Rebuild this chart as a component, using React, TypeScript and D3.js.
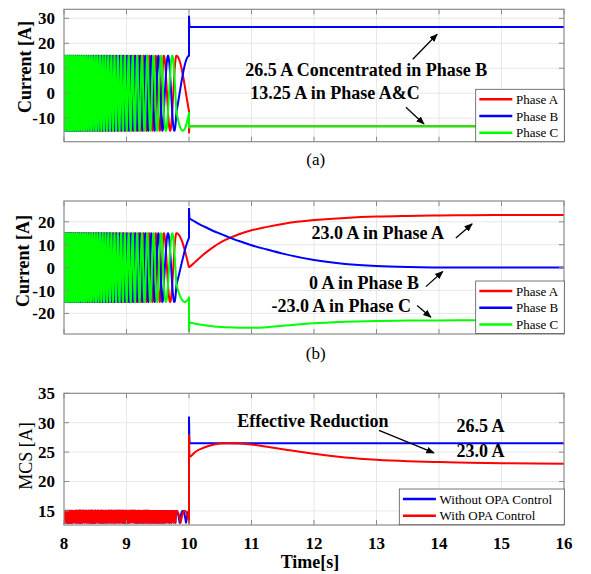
import React from 'react';
import * as d3 from 'd3';

const timeTicks = [8, 9, 10, 11, 12, 13, 14, 15, 16];
const currentTicksA = [-10, 0, 10, 20, 30];
const currentTicksB = [-20, -10, 0, 10, 20];
const mcsTicks = [15, 20, 25, 30, 35];

// crest instants of phase A before the event (stripes widen as the frequency falls)
const crestTimes = [
  8.014, 8.045, 8.077, 8.109, 8.141, 8.174, 8.208, 8.242, 8.278, 8.313, 8.35,
  8.387, 8.425, 8.465, 8.505, 8.546, 8.589, 8.633, 8.678, 8.725, 8.774, 8.825,
  8.878, 8.933, 8.992, 9.055, 9.121, 9.194, 9.273, 9.363, 9.467, 9.597, 9.799,
];
// part of a cycle run between the last crest and t = 10 s
const endCycleA = 0.33;
const endCycleB = 0.25;
const peakCurrent = 15;

// after t = 10 s
const postTimes = [10, 10.01, 10.05, 10.1, 10.2, 10.3, 10.4, 10.5, 10.6, 10.8, 11, 11.25, 11.5, 12, 12.5, 13, 13.5, 14, 14.5, 15, 16];
const aPhaseA = [-16, -13.25, -13.25, -13.25, -13.25, -13.25, -13.25, -13.25, -13.25, -13.25, -13.25, -13.25, -13.25, -13.25, -13.25, -13.25, -13.25, -13.25, -13.25, -13.25, -13.25];
const aPhaseB = [31, 26.5, 26.5, 26.5, 26.5, 26.5, 26.5, 26.5, 26.5, 26.5, 26.5, 26.5, 26.5, 26.5, 26.5, 26.5, 26.5, 26.5, 26.5, 26.5, 26.5];
const aPhaseC = [-14, -13.25, -13.25, -13.25, -13.25, -13.25, -13.25, -13.25, -13.25, -13.25, -13.25, -13.25, -13.25, -13.25, -13.25, -13.25, -13.25, -13.25, -13.25, -13.25, -13.25];
const bPhaseA = [0, 0.3, 1.2, 2.5, 5, 7.2, 9.2, 10.9, 12.3, 14.6, 16.3, 17.8, 19.1, 20.8, 21.7, 22.3, 22.6, 22.8, 22.9, 23, 23];
const bPhaseB = [26, 21.5, 20.8, 20, 18.5, 17.2, 15.9, 14.8, 13.7, 11.6, 9.8, 7.9, 6.1, 3.3, 1.6, 0.7, 0.25, 0.05, 0, 0, 0];
const bPhaseC = [-28, -24, -24.2, -24.5, -25, -25.4, -25.7, -25.9, -26.1, -26.3, -26.3, -26, -25.4, -24.3, -23.7, -23.3, -23.15, -23.05, -23, -23, -23];
const mcsWithout = [31, 26.5, 26.5, 26.5, 26.5, 26.5, 26.5, 26.5, 26.5, 26.5, 26.5, 26.5, 26.5, 26.5, 26.5, 26.5, 26.5, 26.5, 26.5, 26.5, 26.5];
const mcsWith = [28, 24.2, 24.5, 25, 25.6, 26, 26.3, 26.45, 26.5, 26.45, 26.3, 25.9, 25.5, 24.7, 24.1, 23.7, 23.45, 23.3, 23.2, 23.1, 23];

const RED = '#ff0000';
const BLUE = '#0000ff';
const GREEN = '#00ff00';
const FONT = '"Liberation Serif", "Times New Roman", serif';

const x = d3.scaleLinear().domain([8, 16]).range([64, 564]);

const sampleTimes = d3.range(0, 10000).map(i => 8 + i * 0.0002).concat([10]);

function chirp(endCycle) {
  const cyc = d3.scaleLinear()
    .domain([...crestTimes, 10])
    .range([...crestTimes.map((_, i) => i), crestTimes.length - 1 + endCycle]);
  return sampleTimes.map(t => {
    const c = cyc(t);
    return {
      t,
      a: peakCurrent * Math.cos(2 * Math.PI * c),
      b: peakCurrent * Math.cos(2 * Math.PI * (c - 1 / 3)),
      c: peakCurrent * Math.cos(2 * Math.PI * (c + 1 / 3)),
    };
  });
}

const preA = chirp(endCycleA);
const preB = chirp(endCycleB);

const Legend = ({ x0, y0, w, entries }) => (
  <g>
    <rect x={x0} y={y0} width={w} height={entries.length * 16.7 + 2.3} fill="#fff" stroke="#555" strokeWidth={0.8} />
    {entries.map((e, i) => {
      const cy = y0 + 10 + i * 16.7;
      return (
        <g key={e.label}>
          <line x1={x0 + 3.6} x2={x0 + 36.6} y1={cy} y2={cy} stroke={e.color} strokeWidth={2.5} />
          <text x={x0 + 40.3} y={cy + 4.5} fontSize={13} fontFamily={FONT}>{e.label}</text>
        </g>
      );
    })}
  </g>
);

function Panel({ id, top, bottom, domain, ticks, lines, showX }) {
  const y = d3.scaleLinear().domain(domain).range([bottom, top]);
  const linePre = d3.line().x(d => x(d[0])).y(d => y(d[1]));
  const linePost = d3.line().x(d => x(d[0])).y(d => y(d[1])).curve(d3.curveMonotoneX);
  return (
    <g>
      <clipPath id={`clip-${id}`}>
        <rect x={64} y={top} width={500} height={bottom - top} />
      </clipPath>
      <rect x={64} y={top} width={500} height={bottom - top} fill="#fff" />
      {timeTicks.slice(1, -1).map(t => (
        <line key={`gx${t}`} x1={x(t)} x2={x(t)} y1={top} y2={bottom} stroke="#e2e2e2" strokeWidth={0.8} />
      ))}
      {ticks.filter(v => y(v) > top + 1 && y(v) < bottom - 1).map(v => (
        <line key={`gy${v}`} x1={64} x2={564} y1={y(v)} y2={y(v)} stroke="#e2e2e2" strokeWidth={0.8} />
      ))}
      <g clipPath={`url(#clip-${id})`}>
        {lines.map(l => (
          <g key={l.key}>
            <path d={linePre(l.pre.map(p => [p.t, p.v]).concat([[postTimes[0], l.post[0]]]))} fill="none" stroke={l.color} strokeWidth={2} strokeLinejoin="round" />
            <path d={linePost(postTimes.map((t, i) => [t, l.post[i]]))} fill="none" stroke={l.color} strokeWidth={2} />
          </g>
        ))}
      </g>
      <rect x={64} y={top} width={500} height={bottom - top} fill="none" stroke="#8a8a8a" strokeWidth={1.2} />
      {timeTicks.map(t => (
        <g key={`tx${t}`}>
          <line x1={x(t)} x2={x(t)} y1={bottom} y2={bottom - 5} stroke="#8a8a8a" />
          <line x1={x(t)} x2={x(t)} y1={top} y2={top + 5} stroke="#8a8a8a" />
        </g>
      ))}
      {ticks.map(v => (
        <g key={`ty${v}`}>
          <line x1={64} x2={69} y1={y(v)} y2={y(v)} stroke="#8a8a8a" />
          <line x1={564} x2={559} y1={y(v)} y2={y(v)} stroke="#8a8a8a" />
          <text x={55} y={y(v) + 6} textAnchor="end" fontSize={17} fontWeight={700} fontFamily={FONT}>{v}</text>
        </g>
      ))}
      {showX && timeTicks.map(t => (
        <text key={`lx${t}`} x={x(t)} y={549} textAnchor="middle" fontSize={17} fontWeight={700} fontFamily={FONT}>{t}</text>
      ))}
    </g>
  );
}

const Arrow = ({ y, from, to }) => (
  <line x1={x(from[0])} y1={y(from[1])} x2={x(to[0])} y2={y(to[1])} stroke="#000" strokeWidth={1.3} markerEnd="url(#head)" />
);

export default function App() {
  const yA = d3.scaleLinear().domain([-19.4, 33.6]).range([141.7, 9.3]);
  const yB = d3.scaleLinear().domain([-29, 29.1]).range([334, 201]);
  const yC = d3.scaleLinear().domain([12.6, 35]).range([525, 393.3]);

  const mcs = pre => pre.map(p => ({ t: p.t, v: Math.max(Math.abs(p.a), Math.abs(p.b), Math.abs(p.c)) }));
  const phaseLines = (pre, postA, postB, postC) => [
    { key: 'A', color: RED, pre: pre.map(p => ({ t: p.t, v: p.a })), post: postA },
    { key: 'B', color: BLUE, pre: pre.map(p => ({ t: p.t, v: p.b })), post: postB },
    { key: 'C', color: GREEN, pre: pre.map(p => ({ t: p.t, v: p.c })), post: postC },
  ];
  const phaseLegend = [
    { label: 'Phase A', color: RED },
    { label: 'Phase B', color: BLUE },
    { label: 'Phase C', color: GREEN },
  ];
  const bold = { fontSize: 18, fontWeight: 700, fontFamily: FONT };

  return (
    <svg width={591} height={574} style={{ position: 'absolute', left: 0, top: 0, background: '#fff' }}>
      <defs>
        <marker id="head" viewBox="0 0 10 10" refX={9} refY={5} markerWidth={6.5} markerHeight={6.5} orient="auto">
          <path d="M0,1 L10,5 L0,9 z" fill="#000" />
        </marker>
      </defs>

      {/* (a) */}
      <Panel id="a" top={9.3} bottom={141.7} domain={[-19.4, 33.6]} ticks={currentTicksA}
        lines={phaseLines(preA, aPhaseA, aPhaseB, aPhaseC)} showX={false} />
      <Legend x0={475.7} y0={89.3} w={88.6} entries={phaseLegend} />
      <text transform="translate(31,67) rotate(-90)" textAnchor="middle" {...bold}>Current [A]</text>
      <text x={x(10.9)} y={yA(6.9)} {...bold}>26.5 A Concentrated in Phase B</text>
      <text x={x(10.98)} y={yA(-2.3)} {...bold}>13.25 A in Phase A&amp;C</text>
      <Arrow y={yA} from={[13.58, 13.6]} to={[13.97, 23.6]} />
      <Arrow y={yA} from={[13.47, -5.6]} to={[13.76, -12.3]} />
      <text x={315.7} y={165} textAnchor="middle" fontSize={17} fontFamily={FONT}>(a)</text>

      {/* (b) */}
      <Panel id="b" top={201} bottom={334} domain={[-29, 29.1]} ticks={currentTicksB}
        lines={phaseLines(preB, bPhaseA, bPhaseB, bPhaseC)} showX={false} />
      <Legend x0={475.7} y0={281} w={88.6} entries={phaseLegend} />
      <text transform="translate(29,261) rotate(-90)" textAnchor="middle" {...bold}>Current [A]</text>
      <text x={x(11.96)} y={yB(12.4)} {...bold}>23.0 A in Phase A</text>
      <Arrow y={yB} from={[14.27, 12.9]} to={[14.53, 19.1]} />
      <text x={x(11.92)} y={yB(-9.3)} {...bold}>0 A in Phase B</text>
      <Arrow y={yB} from={[13.79, -8.3]} to={[14.06, -1.7]} />
      <text x={x(11.32)} y={yB(-19.4)} {...bold}>-23.0 A in Phase C</text>
      <Arrow y={yB} from={[13.65, -16.6]} to={[13.87, -21.7]} />
      <text x={315.7} y={359} textAnchor="middle" fontSize={17} fontFamily={FONT}>(b)</text>

      {/* (c) */}
      <Panel id="c" top={393.3} bottom={525} domain={[12.6, 35]} ticks={mcsTicks}
        lines={[
          { key: 'wo', color: BLUE, pre: mcs(preA), post: mcsWithout },
          { key: 'w', color: RED, pre: mcs(preB), post: mcsWith },
        ]} showX={true} />
      <Legend x0={399.3} y0={489} w={165} entries={[
        { label: 'Without OPA Control', color: BLUE },
        { label: 'With OPA Control', color: RED },
      ]} />
      <text transform="translate(32,456) rotate(-90)" textAnchor="middle" fontSize={18} fontFamily={FONT}>MCS [A]</text>
      <text x={x(10.77)} y={yC(29.24)} {...bold}>Effective Reduction</text>
      <Arrow y={yC} from={[13.04, 28.7]} to={[13.92, 24.86]} />
      <text x={x(14.28)} y={yC(28.4)} {...bold}>26.5 A</text>
      <text x={x(14.28)} y={yC(24.1)} {...bold}>23.0 A</text>
      <text x={310} y={568} textAnchor="middle" {...bold}>Time[s]</text>
    </svg>
  );
}
